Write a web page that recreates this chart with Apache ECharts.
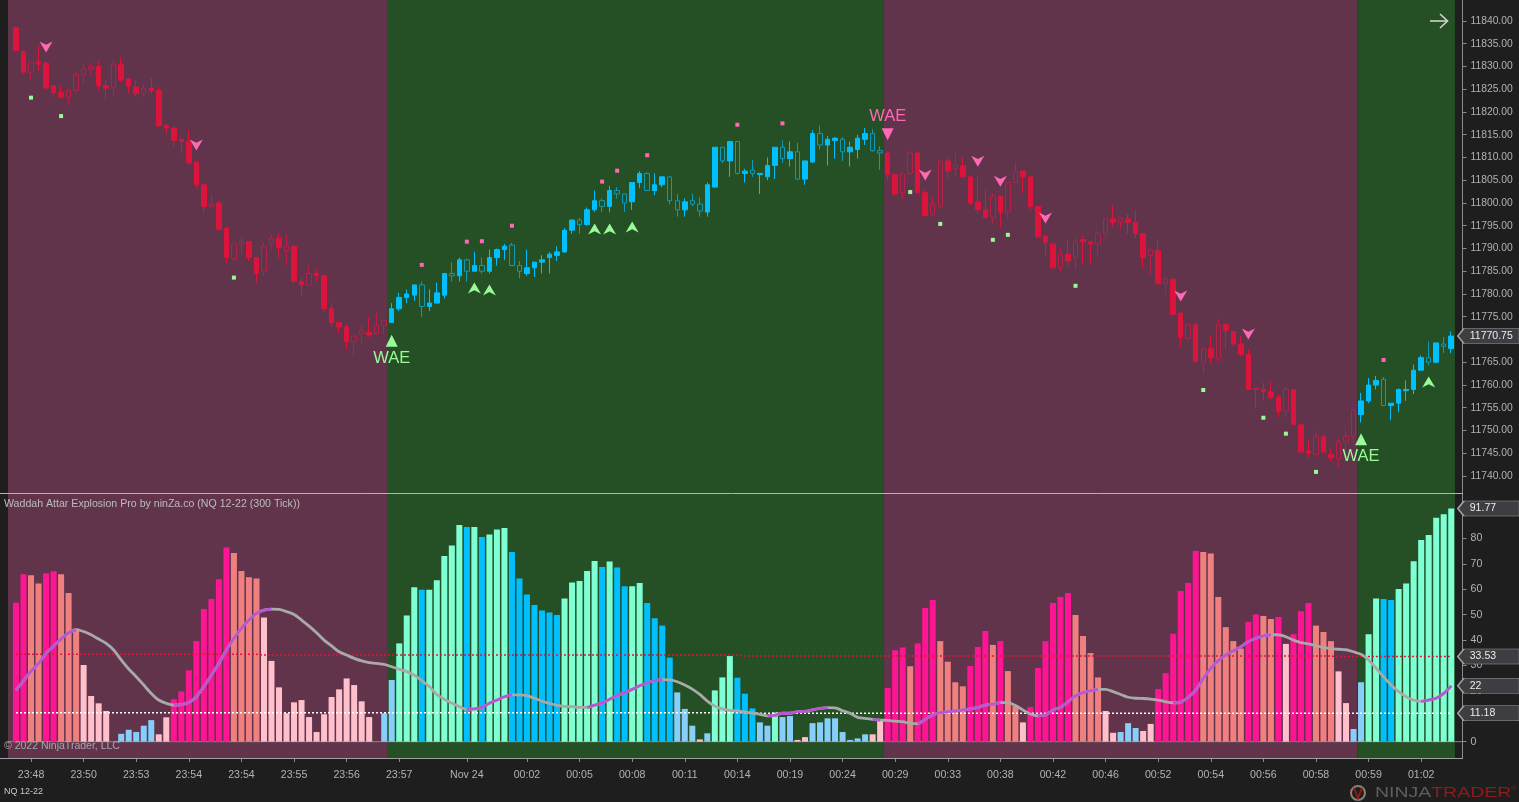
<!DOCTYPE html>
<html><head><meta charset="utf-8">
<style>html,body{margin:0;padding:0;background:#1e1e1e}#c{width:1519px;height:802px}</style>
<script src="https://cdn.jsdelivr.net/npm/echarts@6/dist/echarts.min.js"></script>
</head><body><div id="c"></div>
<script>
// [open, high, low, close] per bar
const ohlc = [
[11838.5,11838.75,11833.25,11833.5],[11833.25,11833.5,11828.25,11828.75],[11828.75,11831,11827,11831],[11831,11834.75,11829,11830.5],[11830.75,11831,11825.25,11825.25],
[11825.75,11825.75,11823.25,11824.25],[11824.25,11825.75,11823,11823.25],[11823.25,11825,11821.5,11824.75],[11824.75,11828.75,11824,11828.25],[11828.25,11830.5,11826,11829.5],
[11829.5,11830.75,11828.25,11830],[11830,11831.25,11824.75,11825.75],[11825.75,11827,11822.75,11825.25],[11825.5,11831.5,11823.5,11830.5],[11830.5,11832,11826.75,11827],
[11827.25,11827.5,11824,11825.75],[11825.5,11827,11823.5,11824],[11824,11826,11823.25,11825.25],[11825.25,11827.5,11824,11824.75],[11824.75,11825.5,11816.75,11817],
[11817,11817.25,11815.25,11816.5],[11816.5,11816.75,11812.5,11813.75],[11814,11814.25,11811,11813.5],[11813.5,11816,11808.75,11808.75],[11809,11809.25,11803.25,11804],
[11804,11804,11798,11799.25],[11799.25,11802,11799.25,11799.75],[11800,11800.5,11794,11794.25],[11794.5,11794.5,11786.75,11788],[11787.75,11791,11787.25,11791],
[11791,11792.5,11788.75,11791.5],[11791.5,11791.5,11787.25,11788],[11788,11788,11782.5,11784.5],[11785,11791.5,11784,11790.5],[11791,11793.25,11789.75,11792.25],
[11792.25,11793.25,11788,11790.25],[11789.5,11793.25,11786.25,11790.5],[11790.5,11790.5,11782.25,11782.75],[11782.75,11783.75,11779.75,11782],[11782,11786.25,11782,11784.5],
[11784.5,11785.5,11782.75,11784],[11784,11784,11776,11776.75],[11776.75,11778,11772.75,11773.75],[11773.75,11773.75,11771.25,11772.75],[11772.75,11773.25,11767.75,11769.5],
[11769.5,11770.75,11766.25,11770.75],[11771.25,11773.25,11769,11772],[11771.5,11774.75,11770.5,11771],[11771.25,11776,11771,11773],[11773,11774.25,11771.25,11774.25],
[11773.75,11778,11773.75,11776.75],[11776.75,11780.25,11776.25,11779.25],[11779.25,11781,11778,11780],[11779.75,11782,11778.5,11782],[11782,11782.75,11775,11777.25],
[11777.25,11781,11776.25,11778],[11778,11782.5,11778,11780.25],[11779.75,11784.5,11779,11784.5],[11784.5,11787,11782.75,11784],[11784,11788,11782.75,11787.5],
[11787.5,11787.75,11782.75,11785],[11785,11789.25,11785,11786.25],[11786.25,11788,11784.5,11785],[11785,11789.75,11784.5,11788],[11788,11790,11786.25,11789.75],
[11789.75,11791,11787.5,11790.5],[11790.75,11791.25,11786.25,11786.25],[11786.25,11787.25,11783.5,11785],[11784.5,11789.75,11784,11785.75],[11785.75,11787,11783.75,11787],
[11787,11788.5,11784.5,11787.5],[11788,11789.25,11784.5,11788.75],[11788.5,11790.5,11787.25,11789.25],[11789.25,11794.5,11789,11794],[11794,11796.25,11793.25,11796.25],
[11796.25,11796.75,11793.25,11795.25],[11795.25,11799,11795,11798.5],[11798.5,11802.75,11798,11800.5],[11800.5,11801,11798,11799.25],[11799.25,11803.75,11798,11802.75],
[11802.75,11803.5,11801,11802],[11802,11802,11798,11800],[11800.25,11804.5,11798.5,11804.5],[11804.5,11807,11803.25,11806.5],[11806.5,11806.75,11802.75,11802.75],
[11802.75,11806.5,11801.75,11804],[11804,11805.75,11803.5,11805.75],[11805.75,11805.75,11799.75,11800.5],[11800.5,11802,11797,11798.5],[11798.5,11801,11797,11800.25],
[11800.5,11802,11799.25,11799.75],[11799.75,11801.25,11797,11798.25],[11798,11804.5,11797,11804],[11803.5,11812.25,11803.5,11812.25],[11812.25,11812.25,11808.75,11809.25],
[11809.25,11813.5,11805.75,11813.5],[11813.5,11813.5,11806.25,11806.5],[11806.5,11807.5,11804.5,11807],[11807.25,11809.5,11805.75,11806.5],[11806.25,11806.5,11802,11806.5],
[11805.75,11810,11805,11808.25],[11808.25,11812.25,11805.25,11812.25],[11812.25,11813.75,11808.75,11809.75],[11809.75,11813.5,11808,11811.25],[11811.25,11813.25,11805.25,11805.25],
[11805.25,11809.25,11804,11809.25],[11809,11816,11808.75,11815.25],[11815.25,11817,11811.75,11812.75],[11812.75,11814.75,11808.25,11814],[11813.75,11814.5,11809.75,11814.25],
[11814,11814.5,11809.25,11811.25],[11811.25,11813.5,11808,11812.25],[11811.75,11815,11809.75,11814.25],[11814,11816.5,11812.75,11815.25],[11815.25,11816.25,11811.25,11811.5],
[11811.5,11812.5,11807.25,11811],[11811,11811.25,11805,11806.25],[11806.25,11806.25,11801.75,11802],[11802.25,11806.5,11800.75,11806.5],[11806.5,11811.5,11806.5,11811],
[11811,11811,11802.25,11802.25],[11802.25,11802.75,11797,11797.25],[11797.5,11801.5,11797.25,11799.75],[11799.25,11809.25,11799,11809.25],[11809.25,11810,11805.5,11807],
[11807.5,11811,11806,11808.25],[11808.25,11810,11805.75,11805.75],[11805.75,11805.75,11799.5,11800],[11800.25,11805.75,11797.5,11798.5],[11798.5,11802.75,11796.75,11796.75],
[11796.75,11802,11795.5,11801.5],[11801.5,11801.5,11794.75,11798],[11798,11804.5,11796.75,11804.5],[11804.5,11809,11804.5,11807],[11807,11807,11802.25,11805.75],
[11805.75,11805.75,11798.5,11799.25],[11799.25,11799.25,11792.5,11792.5],[11792.75,11792.75,11788.5,11791.25],[11791,11791,11785.75,11785.75],[11785.75,11790.25,11785,11788.75],
[11788.75,11792,11786.25,11787.25],[11788,11792.25,11785.5,11791.5],[11792,11792.75,11786.75,11791.5],[11791.5,11791.5,11786.75,11791],[11791,11793.75,11788.5,11793.25],
[11793.25,11796.5,11792,11796.5],[11796.5,11799.5,11794.75,11795.75],[11795.75,11796.75,11794.25,11796.75],[11796.5,11797.5,11793.25,11795.75],[11795.75,11798.5,11792.25,11793.25],
[11793.25,11793.25,11785.75,11788],[11788.5,11790,11784.25,11789.75],[11789.5,11792,11782.25,11782.25],[11782.25,11784,11779.75,11783.25],[11783.25,11783.25,11775.5,11775.5],
[11775.75,11776,11768.5,11770.5],[11770.25,11773.5,11769.5,11773.25],[11773.25,11773.75,11765,11765.25],[11765,11768,11762.5,11768],[11768,11770.75,11764.75,11766],
[11765.75,11774.5,11765,11773.25],[11773.25,11773.25,11768,11772],[11771.75,11771.75,11768.5,11769],[11769,11770.75,11766.25,11766.75],[11766.75,11767.75,11759,11759],
[11759.25,11759.25,11754.75,11759],[11759,11760.5,11756.5,11758.5],[11758.5,11760.75,11756.75,11757.25],[11757.25,11758,11753,11754.25],[11754.25,11759.5,11753,11759],
[11759,11759,11751.25,11751.25],[11751.25,11751.25,11745.25,11745.25],[11745.5,11748,11744,11745],[11744.75,11750,11744.5,11748.75],[11748.75,11748.75,11745.25,11745.25],
[11744.75,11746,11743.25,11744],[11743.75,11748.25,11742,11747.5],[11747.5,11750,11745.25,11748.75],[11748.75,11754.5,11747.25,11754.5],[11753.5,11758.25,11751.75,11756.5],
[11756.5,11761.5,11756,11760],[11760,11762,11759,11761],[11761.25,11761.75,11755.5,11755.5],[11755.5,11756,11752.25,11756],[11756,11759.25,11754,11759],
[11758.75,11761,11756.5,11759],[11759,11764.5,11758,11763.25],[11763.25,11766.5,11763.25,11766],[11766,11769.5,11764.25,11765],[11765,11769.25,11764.75,11769.25],
[11769,11770.5,11767,11768.5],[11768,11771.75,11767,11770.75]];

const histValues = [
54.7,65.9,65.5,62.3,66.3,67.1,65.9,58.5,44.6,30.2,
18.0,15.1,12.1,0,3.1,4.7,3.8,6.3,8.5,2.9,
9.6,16.7,19.8,28.1,39.6,52.2,56.2,64.0,76.5,74.3,
67.2,64.7,64.3,48.9,31.8,21.4,11.2,15.5,16.4,9.7,
3.8,10.8,17.6,20.6,24.9,22.3,15.9,9.7,0,11.2,
24.3,38.7,49.7,60.8,59.8,59.8,63.6,73.1,77.2,85.3,
84.5,84.5,80.6,81.6,83.5,84.1,74.7,64.3,58.0,53.8,
51.7,50.9,49.9,56.4,62.7,63.3,67.2,71.1,68.8,70.9,
68.6,61.2,61.2,62.5,54.6,48.6,45.7,33.1,19.4,12.9,
6.3,0.9,3.3,20.2,25.3,33.7,25.2,18.9,13.1,7.6,
6.3,11.5,9.7,10.1,0.7,1.8,7.3,7.6,9.2,9.2,
3.8,0.7,1.3,2.9,2.9,8.3,21.1,36.0,37.1,29.7,
38.7,52.6,55.8,39.6,31.5,23.4,21.8,29.8,37.3,43.6,
38.1,39.6,27.8,14,7.6,13.6,29.0,39.6,54.6,57.0,
58.5,49.9,41.6,34.9,25.3,12.1,3.5,3.8,7.3,5.4,
4.2,7.0,20.7,27.0,42.5,59.3,62.5,75.1,74.7,74.1,
57.0,45.1,39.6,36.7,47.2,50.1,49.5,48.3,49.1,38.5,
42.3,51.4,54.6,45.7,43.2,39.6,27.7,15.2,5.0,23.4,
42.3,56.4,56.2,55.8,60.1,62.3,71.0,79.4,81.4,88.2,
89.5,91.77];
const histKinds = "PPSSPPSSSL"+"LLLLBBBBBL"+"LPPPPPPPPS"+"SSSLLLLLLL"+"LLLLLLLLBB"+"BAAADAAAAA"+"DADAAADDDD"+"DDDAAAAADA"+"DDAADDDDBB"+"BLBAAADDDB"+"BABBLLBBBB"+"BBBBLLPPPS"+"PPPSSSSPPP"+"SPSSLPPPPP"+"PSSSSLLBBB"+"LLPPPPPPSS"+"SSSSPPSSPL"+"PPPSSSLLBB"+"AADDAAAAAA"+"AA";
const histColors = {P:'#ff1493',S:'#f08080',L:'#ffc0cb',B:'#87cefa',A:'#7fffd4',D:'#00bfff'};

const signal = [
20.3,24.0,27.8,30.8,34.8,37.7,40.4,42.9,44.0,43.4,
42.1,40.4,38.7,36.1,32.2,28.6,25.6,22.3,19.0,16.4,
15.1,14.4,14.6,15.4,17.7,21.7,26.2,30.8,36.1,40.7,
44.6,47.9,50.5,51.8,52.2,52.1,51.2,50.1,47.9,45.5,
42.9,40.0,37.7,35.4,34.1,32.8,31.8,31.1,30.8,30.4,
29.5,28.5,27.6,26.2,24.0,21.7,18.6,16.7,15.2,13.8,
12.7,12.9,13.5,15.1,16.4,17.7,18.4,18.4,18.1,17.1,
16.0,15.1,14.3,13.9,13.8,13.5,13.5,14.4,15.2,16.7,
18.2,19.3,20.6,22.0,23.2,24.0,24.4,24.3,23.6,22.3,
20.7,18.6,16.0,14.0,12.9,12.3,12.1,11.7,11.3,10.8,
10.2,10.4,11.2,11.2,11.8,11.9,12.5,13.1,13.4,13.3,
12.2,11.2,9.6,9.2,8.8,8.5,8.4,8.1,7.9,7.2,
7.1,8.8,10.5,11.4,11.8,12.1,12.5,12.9,13.5,14.4,
14.8,15.4,15.4,14.2,12.5,10.9,10.2,10.5,12.5,13.5,
15.7,18.1,19.3,20.1,20.6,20.6,19.7,18.6,17.5,17.1,
17.0,16.8,16.4,15.7,15.3,15.6,17.5,20.3,24.9,28.9,
31.9,34.1,35.8,37.4,39.4,40.7,41.7,42.1,42.1,41.3,
40.0,39.0,38.5,37.8,37.1,36.6,36.4,36.2,35.4,34.4,
32.2,28.9,25.6,22.3,19.7,17.7,16.4,15.9,16.4,17.1,
19.0,22.0];
const signalRisingSpans = [[0,8],[21,34],[60,66],[76,86],[100,108],[114,115],[120,131],[136,144],[154,167],[187,191]];

const upperBand = [[0,34.4],[32,34.4],[33,34.1],[96,34.1],[97,33.7],[175,33.7],[176,33.53],[191,33.53]];
const lowerBand = [[0,11.4],[98,11.4],[99,11.18],[191,11.18]];

// regime: first bar, last bar, side
const regimes = [[0,49,'sell'],[50,115,'buy'],[116,178,'sell'],[179,191,'buy']];

const sellArrows = [[4,11834.3],[24,11812.75],[121,11806.15],[128,11809.2],[131,11804.8],[137,11796.7],[155,11779.55],[164,11771.2]];
const buyArrows  = [[61,11781.3],[63,11780.9],[77,11794.3],[79,11794.3],[82,11794.7],[188,11760.65]];
const greenDots  = [[2,11823.15],[6,11819.1],[29,11783.6],[119,11802.4],[123,11795.4],[130,11791.9],[132,11793],[141,11781.8],[158,11758.9],[166,11752.8],[169,11749.3],[173,11740.9]];
const pinkDots   = [[54,11786.4],[60,11791.5],[62,11791.6],[66,11795],[78,11804.7],[80,11807.1],[84,11810.5],[96,11817.2],[102,11817.5],[182,11765.5]];
const waeUp   = [[50,11769.7],[179,11748.1]];
const waeDown = [[116,11815.1]];

const priceTicks = [11840,11835,11830,11825,11820,11815,11810,11805,11800,11795,11790,11785,11780,11775,11770,11765,11760,11755,11750,11745,11740];
const histTicks = [0,10,20,30,40,50,60,70,80,90];
const timeBars = [2,9,16,23,30,37,44,51,60,68,75,82,89,96,103,110,117,124,131,138,145,152,159,166,173,180,187];
const timeLabels = ['23:48','23:50','23:53','23:54','23:54','23:55','23:56','23:57','Nov 24','00:02','00:05','00:08','00:11','00:14','00:19','00:24','00:29','00:33','00:38','00:42','00:46','00:52','00:54','00:56','00:58','00:59','01:02'];
const lastPrice = 11770.75;
const histCallouts = [[91.77,'91.77'],[33.53,'33.53'],[22,'22'],[11.18,'11.18']];

const FONT='"Liberation Sans",Arial,sans-serif';
const BG_RED='#61344c', BG_GREEN='#255025';
const X_MIN=-1.065, X_MAX=192.5, BAND_END=191.5;
const sideOf=i=>regimes.find(r=>i>=r[0]&&i<=r[1])[2];
const bands=regimes.map((r,k)=>[
  {xAxis:k===0?X_MIN:r[0]-0.5,itemStyle:{color:r[2]==='sell'?BG_RED:BG_GREEN,opacity:1}},
  {xAxis:k===regimes.length-1?BAND_END:r[1]+0.5}]);
const candleData=side=>ohlc.map((c,i)=>[i,c[0],c[3],c[2],c[1],i]).filter(d=>sideOf(d[0])===side);
const bandSeries=(xi,yi,pts)=>({type:'line',xAxisIndex:xi,yAxisIndex:yi,data:pts,symbol:'none',silent:true,z:1,
  lineStyle:{color:'#8a8a8a',width:1},
  markArea:{silent:true,z:0,data:bands,label:{show:false}}});
const candle=side=>({type:'candlestick',xAxisIndex:0,yAxisIndex:0,z:3,barWidth:5,
  encode:{x:0,y:[1,2,3,4]},data:candleData(side),
  itemStyle: side==='sell'
   ? {color:'rgba(0,0,0,0)',color0:'#dc143c',borderColor:'#b81f47',borderColor0:'#dc143c',borderWidth:1}
   : {color:'#00bfff',color0:'rgba(0,0,0,0)',borderColor:'#00bfff',borderColor0:'#0c9ab9',borderWidth:1}});
const scatter=(data,symbol,size,color,extra)=>Object.assign({type:'scatter',xAxisIndex:0,yAxisIndex:0,z:5,data,symbol,symbolSize:size,symbolKeepAspect:false,itemStyle:{color,opacity:1},silent:true},extra||{});
const CH_DOWN='path://M0 0 L6 3 L12 0 L6 10 Z', CH_UP='path://M0 10 L6 7 L12 10 L6 0 Z';
const CALLOUT='path://M0 7.5 L6 0 L61 0 L61 15 L6 15 Z';
const callout=(xi,yi,rows)=>({type:'scatter',xAxisIndex:xi,yAxisIndex:yi,z:20,clip:false,silent:true,
  data:rows.map(r=>({value:[196,r[0]],name:r[1]})),symbol:CALLOUT,symbolSize:[62,15],
  itemStyle:{color:'#3d3d42',borderColor:'#a0a0a0',borderWidth:1,opacity:1},
  label:{show:true,position:'insideLeft',distance:13,color:'#ececec',fontFamily:FONT,fontSize:10.5,formatter:p=>p.name}});
const orchid=signal.map((v,i)=>[i,signalRisingSpans.some(s=>i>=s[0]&&i<=s[1])?v:null]);
const xBase={type:'value',min:X_MIN,max:X_MAX,splitLine:{show:false},axisPointer:{show:false}};
const yBase={type:'value',position:'right',splitLine:{show:false},
  axisLine:{show:true,onZero:false,lineStyle:{color:'#8c8c8c'}},
  axisTick:{show:true,length:4,lineStyle:{color:'#8c8c8c'}}};

const option={
 animation:false,backgroundColor:'#1e1e1e',textStyle:{fontFamily:FONT},
 grid:[{left:8,top:0,width:1454.5,height:493.5},{left:8,top:494,width:1454.5,height:264}],
 xAxis:[
  Object.assign({},xBase,{gridIndex:0,show:false}),
  Object.assign({},xBase,{gridIndex:1,position:'bottom',
   axisLine:{show:true,onZero:false,lineStyle:{color:'#a0a0a0'}},
   axisTick:{show:true,length:4,lineStyle:{color:'#8c8c8c'},customValues:timeBars},
   axisLabel:{show:true,margin:12,color:'#b2b2b2',fontFamily:FONT,fontSize:10.6,customValues:timeBars,
     formatter:v=>timeLabels[timeBars.indexOf(v)]||''}})
 ],
 yAxis:[
  Object.assign({},yBase,{gridIndex:0,min:11736.15,max:11844.615,
    axisTick:Object.assign({},yBase.axisTick,{customValues:priceTicks}),
    axisLabel:{margin:8,color:'#b2b2b2',fontFamily:FONT,fontSize:10.3,customValues:priceTicks,formatter:v=>v.toFixed(2)}}),
  Object.assign({},yBase,{gridIndex:1,min:-6.42,max:97.52,
    axisTick:Object.assign({},yBase.axisTick,{customValues:histTicks}),
    axisLabel:{margin:8,color:'#b2b2b2',fontFamily:FONT,fontSize:10.6,customValues:histTicks}})
 ],
 series:[
  bandSeries(0,0,[]),
  candle('sell'),candle('buy'),
  scatter(sellArrows,CH_DOWN,[13,11],'#ff69b4'),
  scatter(buyArrows,CH_UP,[13,11],'#98fb98'),
  scatter(greenDots,'rect',4,'#98fb98'),
  scatter(pinkDots,'rect',4,'#ff69b4'),
  scatter(waeUp,'triangle',12,'#98fb98',{label:{show:true,position:'bottom',distance:3,formatter:'WAE',color:'#98fb98',fontFamily:FONT,fontSize:16.5}}),
  scatter(waeDown,'triangle',12,'#ff69b4',{symbolRotate:180,label:{show:true,position:'top',distance:3,formatter:'WAE',color:'#ff69b4',fontFamily:FONT,fontSize:16.5}}),
  callout(0,0,[[lastPrice,lastPrice.toFixed(2)]]),
  bandSeries(1,1,[[X_MIN,0],[X_MAX,0]]),
  {type:'bar',xAxisIndex:1,yAxisIndex:1,z:3,barWidth:6,silent:true,
   data:histValues.map((v,i)=>({value:[i,v],itemStyle:{color:histColors[histKinds[i]]}}))},
  {type:'line',xAxisIndex:1,yAxisIndex:1,z:4,data:upperBand,symbol:'none',silent:true,lineStyle:{color:'#dc143c',width:1.5,type:[2,2]}},
  {type:'line',xAxisIndex:1,yAxisIndex:1,z:4,data:lowerBand,symbol:'none',silent:true,lineStyle:{color:'#ffffff',width:1.5,type:[2,2]}},
  {type:'line',xAxisIndex:1,yAxisIndex:1,z:5,data:signal.map((v,i)=>[i,v]),symbol:'none',smooth:0.3,silent:true,lineStyle:{color:'#a9a9a9',width:2.8}},
  {type:'line',xAxisIndex:1,yAxisIndex:1,z:6,data:orchid,symbol:'none',smooth:0.3,silent:true,connectNulls:false,lineStyle:{color:'#ba55d3',width:2.8}},
  callout(1,1,histCallouts)
 ],
 graphic:{elements:[
  {type:'line',silent:true,z:30,shape:{x1:0,y1:493.5,x2:1463,y2:493.5},style:{stroke:'#b4b4b4',lineWidth:1}},
  {type:'line',silent:true,z:30,shape:{x1:0,y1:758.5,x2:1463,y2:758.5},style:{stroke:'#a0a0a0',lineWidth:1}},
  {type:'polyline',silent:true,z:30,shape:{points:[[1430,21],[1447,21]]},style:{stroke:'#d4d4d4',lineWidth:1.6,fill:null}},
  {type:'polyline',silent:true,z:30,shape:{points:[[1440,14],[1447.5,21],[1440,28]]},style:{stroke:'#d4d4d4',lineWidth:1.6,fill:null}},
  {type:'text',silent:true,z:30,x:4,y:504,style:{text:'Waddah Attar Explosion Pro by ninZa.co (NQ 12-22 (300 Tick))',fill:'#bcbcbc',font:'10.6px '+FONT,verticalAlign:'middle'}},
  {type:'text',silent:true,z:30,x:4,y:746,style:{text:'© 2022 NinjaTrader, LLC',fill:'#a8a8a8',font:'10.5px '+FONT,verticalAlign:'middle'}},
  {type:'text',silent:true,z:30,x:4,y:792,style:{text:'NQ 12-22',fill:'#c8c8c8',font:'9px '+FONT,verticalAlign:'middle'}},
  {type:'circle',silent:true,z:30,shape:{cx:1358,cy:793,r:7},style:{stroke:'#8d8073',lineWidth:2,fill:null}},
  {type:'polyline',silent:true,z:31,shape:{points:[[1354,788],[1358,798],[1362,788]]},style:{stroke:'#8f1c1c',lineWidth:2,fill:null}},
  {type:'text',silent:true,z:30,x:1375,y:793,scaleX:1.39,style:{
    text:'{a|NINJA}{b|TRADER}{c|®}',verticalAlign:'middle',
    rich:{a:{fill:'#5e5e5e',font:'14px '+FONT},b:{fill:'#8f1c1c',font:'14px '+FONT},c:{fill:'#8f1c1c',font:'5px '+FONT,verticalAlign:'top'}}}}
 ]}
};
echarts.init(document.getElementById('c'),null,{renderer:'canvas'}).setOption(option);
</script></body></html>
